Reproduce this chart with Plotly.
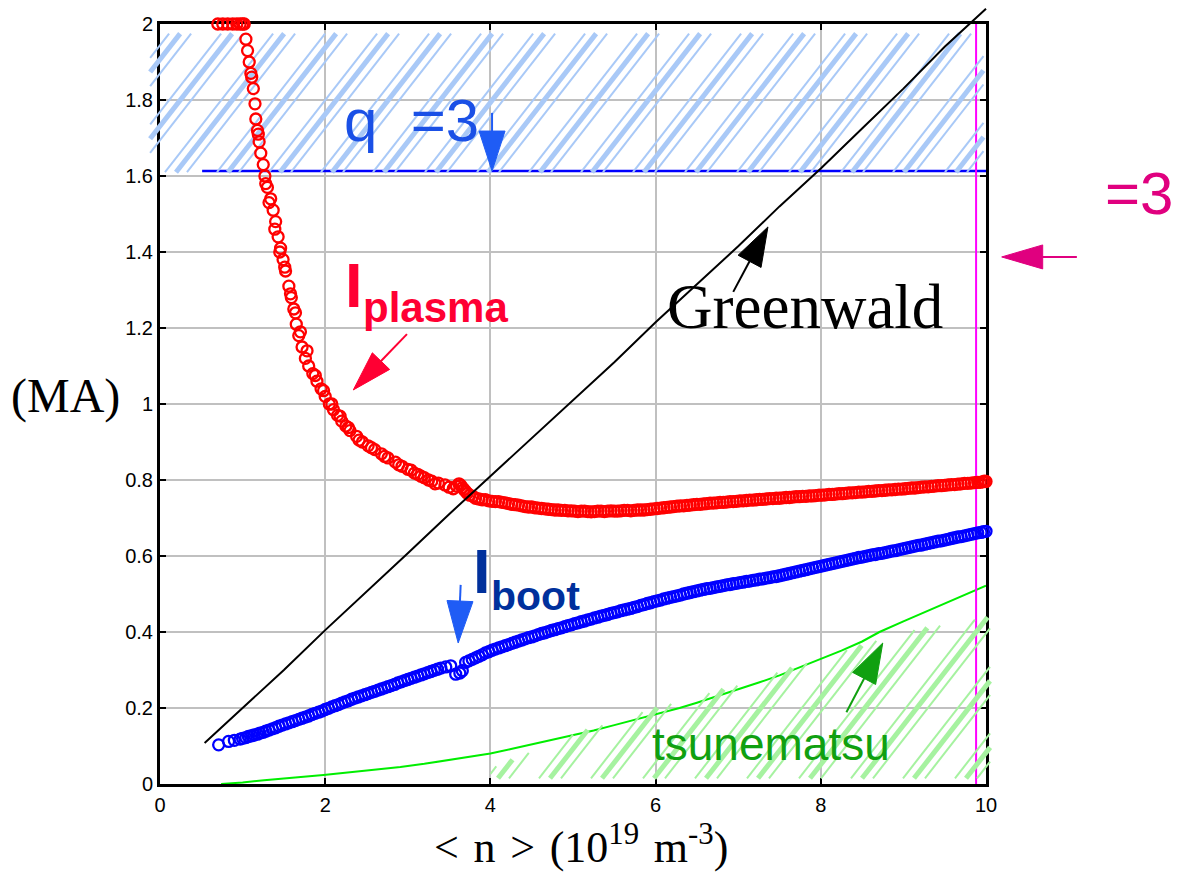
import numpy as np
import plotly.graph_objects as go

# ---------------- data (n in 1e19 m^-3, currents in MA) ----------------
ip_n = [0.70, 0.76, 0.82, 0.88, 0.93, 0.97, 1.00, 1.02, 1.04, 1.06, 1.08, 1.10, 1.13, 1.15,
        1.16, 1.18, 1.20, 1.22, 1.25, 1.27, 1.30, 1.34, 1.37, 1.40, 1.43, 1.46, 1.49, 1.52,
        1.56, 1.59, 1.62, 1.65, 1.68, 1.72, 1.76, 1.80, 1.85, 1.90, 1.95, 2.00, 2.05, 2.10,
        2.15, 2.20, 2.25, 2.30, 2.38, 2.45, 2.52, 2.60, 2.68, 2.76, 2.85, 2.93, 3.00, 3.08,
        3.16, 3.25, 3.33, 3.45, 3.55, 3.62, 3.66, 3.70, 3.75, 3.82, 3.90, 3.98, 4.06, 4.14,
        4.22, 4.30, 4.38, 4.46, 4.54, 4.62, 4.70, 4.78, 4.86, 4.94, 5.02, 5.10, 5.18, 5.26,
        5.34, 5.42, 5.50, 5.58, 5.66, 5.74, 5.82, 5.90, 5.98, 6.06, 6.14, 6.22, 6.30, 6.38,
        6.46, 6.54, 6.62, 6.70, 6.78, 6.86, 6.94, 7.02, 7.10, 7.18, 7.26, 7.34, 7.42, 7.50,
        7.58, 7.66, 7.74, 7.82, 7.90, 7.98, 8.06, 8.14, 8.22, 8.30, 8.38, 8.46, 8.54, 8.62,
        8.70, 8.78, 8.86, 8.94, 9.02, 9.10, 9.18, 9.26, 9.34, 9.42, 9.50, 9.58, 9.66, 9.74,
        9.82, 9.90, 9.96, 10.0,
        1.11, 1.19, 1.28, 1.32, 1.39, 1.45, 1.51, 1.58, 1.64, 1.70, 1.78, 1.88, 1.98, 2.08,
        2.18, 2.28, 2.41, 2.56, 2.72, 2.89,
        3.04, 3.12, 3.20, 3.29, 3.37, 3.50, 3.59, 3.64, 3.68, 3.72, 3.79, 3.86, 3.94, 4.02,
        4.10, 4.18, 4.26, 4.34, 4.42, 4.50, 4.58, 4.66, 4.74, 4.82, 4.90, 4.98, 5.06, 5.14,
        5.22, 5.30, 5.38, 5.46, 5.54, 5.62, 5.70, 5.78, 5.86, 5.94, 6.02, 6.10, 6.18, 6.26,
        6.34, 6.42, 6.50, 6.58, 6.66, 6.74, 6.82, 6.90, 6.98, 7.06, 7.14, 7.22, 7.30, 7.38,
        7.46, 7.54, 7.62, 7.70, 7.78, 7.86, 7.94, 8.02, 8.10, 8.18, 8.26, 8.34, 8.42, 8.50,
        8.58, 8.66, 8.74, 8.82, 8.90, 8.98, 9.06, 9.14, 9.22, 9.30, 9.38, 9.46, 9.54, 9.62,
        9.70, 9.78, 9.86, 9.93, 9.98]
ip_ma = [2.00, 2.00, 2.00, 2.00, 2.00, 2.00, 2.00, 2.00, 1.96, 1.93, 1.90, 1.87, 1.83, 1.79,
         1.75, 1.72, 1.69, 1.66, 1.63, 1.60, 1.57, 1.54, 1.51, 1.48, 1.44, 1.41, 1.38, 1.35,
         1.31, 1.28, 1.25, 1.21, 1.18, 1.15, 1.12, 1.10, 1.08, 1.06, 1.04, 1.02, 1.00, 0.985,
         0.97, 0.955, 0.942, 0.93, 0.915, 0.90, 0.89, 0.88, 0.869, 0.858, 0.847, 0.836, 0.828, 0.818,
         0.81, 0.80, 0.79, 0.787, 0.777, 0.79, 0.78, 0.77, 0.76, 0.752, 0.748, 0.745, 0.743, 0.741,
         0.738, 0.735, 0.732, 0.729, 0.727, 0.725, 0.723, 0.721, 0.720, 0.719, 0.718, 0.718, 0.717, 0.717,
         0.718, 0.718, 0.718, 0.719, 0.720, 0.720, 0.721, 0.722, 0.724, 0.726, 0.728, 0.730, 0.732, 0.733,
         0.735, 0.736, 0.738, 0.739, 0.741, 0.742, 0.743, 0.745, 0.746, 0.747, 0.749, 0.750, 0.751, 0.752,
         0.754, 0.755, 0.756, 0.757, 0.758, 0.760, 0.761, 0.762, 0.764, 0.765, 0.766, 0.768, 0.769, 0.770,
         0.772, 0.773, 0.774, 0.776, 0.777, 0.779, 0.780, 0.782, 0.783, 0.785, 0.786, 0.788, 0.789, 0.791,
         0.792, 0.794, 0.795, 0.796,
         1.86, 1.71, 1.58, 1.53, 1.46, 1.40, 1.36, 1.29, 1.24, 1.19, 1.14, 1.075, 1.035, 1.00,
         0.968, 0.938, 0.905, 0.885, 0.862, 0.840,
         0.826, 0.815, 0.806, 0.797, 0.792, 0.781, 0.784, 0.786, 0.775, 0.765, 0.757, 0.750, 0.748, 0.744,
         0.743, 0.740, 0.736, 0.734, 0.730, 0.729, 0.726, 0.724, 0.722, 0.721, 0.720, 0.719, 0.717, 0.718,
         0.716, 0.718, 0.717, 0.719, 0.718, 0.720, 0.719, 0.721, 0.721, 0.723, 0.725, 0.727, 0.729, 0.731,
         0.732, 0.734, 0.736, 0.737, 0.739, 0.740, 0.741, 0.743, 0.744, 0.745, 0.747, 0.748, 0.749, 0.751,
         0.752, 0.753, 0.754, 0.756, 0.757, 0.758, 0.759, 0.760, 0.762, 0.763, 0.764, 0.766, 0.767, 0.768,
         0.770, 0.771, 0.772, 0.774, 0.775, 0.776, 0.778, 0.779, 0.781, 0.782, 0.784, 0.785, 0.787, 0.788,
         0.790, 0.791, 0.793, 0.794, 0.797]

ib_n = [0.71, 0.83, 0.90, 0.97, 1.04, 1.11, 1.18, 1.25, 1.32, 1.40, 1.48, 1.56, 1.64, 1.72,
        1.80, 1.88, 1.96, 2.04, 2.12, 2.20, 2.28, 2.36, 2.44, 2.52, 2.60, 2.68, 2.76, 2.84,
        2.92, 3.00, 3.08, 3.16, 3.24, 3.32, 3.40, 3.52, 3.58, 3.63, 3.66, 3.70, 3.78, 3.86,
        3.94, 4.02, 4.10, 4.18, 4.26, 4.34, 4.42, 4.50, 4.58, 4.66, 4.74, 4.82, 4.90, 4.98,
        5.06, 5.14, 5.22, 5.30, 5.38, 5.46, 5.54, 5.62, 5.70, 5.78, 5.86, 5.94, 6.02, 6.10,
        6.18, 6.26, 6.34, 6.42, 6.50, 6.58, 6.66, 6.74, 6.82, 6.90, 6.98, 7.06, 7.14, 7.22,
        7.30, 7.38, 7.46, 7.54, 7.62, 7.70, 7.78, 7.86, 7.94, 8.02, 8.10, 8.18, 8.26, 8.34,
        8.42, 8.50, 8.58, 8.66, 8.74, 8.82, 8.90, 8.98, 9.06, 9.14, 9.22, 9.30, 9.38, 9.46,
        9.54, 9.62, 9.70, 9.78, 9.86, 9.94, 10.0,
        1.00, 1.07, 1.14, 1.21, 1.28, 1.36, 1.44, 1.52, 1.60, 1.68, 1.76, 1.84, 1.92, 2.00,
        2.08, 2.16, 2.24, 2.32, 2.40, 2.48, 2.56, 2.64, 2.72, 2.80, 2.88, 2.96, 3.04, 3.12,
        3.20, 3.28, 3.36, 3.46, 3.74, 3.82, 3.90, 3.98, 4.06, 4.14, 4.22, 4.30, 4.38, 4.46,
        4.54, 4.62, 4.70, 4.78, 4.86, 4.94, 5.02, 5.10, 5.18, 5.26, 5.34, 5.42, 5.50, 5.58,
        5.66, 5.74, 5.82, 5.90, 5.98, 6.06, 6.14, 6.22, 6.30, 6.38, 6.46, 6.54, 6.62, 6.70,
        6.78, 6.86, 6.94, 7.02, 7.10, 7.18, 7.26, 7.34, 7.42, 7.50, 7.58, 7.66, 7.74, 7.82,
        7.90, 7.98, 8.06, 8.14, 8.22, 8.30, 8.38, 8.46, 8.54, 8.62, 8.70, 8.78, 8.86, 8.94,
        9.02, 9.10, 9.18, 9.26, 9.34, 9.42, 9.50, 9.58, 9.66, 9.74, 9.82, 9.90, 9.97]
ib_ma = [0.103, 0.112, 0.115, 0.118, 0.122, 0.127, 0.131, 0.136, 0.142, 0.148, 0.155, 0.161, 0.167, 0.173,
         0.179, 0.186, 0.192, 0.199, 0.206, 0.213, 0.219, 0.226, 0.232, 0.238, 0.244, 0.250, 0.256, 0.262,
         0.269, 0.275, 0.281, 0.287, 0.293, 0.299, 0.305, 0.311, 0.289, 0.292, 0.298, 0.320, 0.328, 0.336,
         0.345, 0.352, 0.358, 0.364, 0.370, 0.376, 0.382, 0.387, 0.393, 0.398, 0.404, 0.409, 0.414, 0.419,
         0.424, 0.429, 0.434, 0.439, 0.444, 0.449, 0.453, 0.458, 0.462, 0.467, 0.472, 0.477, 0.482, 0.487,
         0.491, 0.495, 0.500, 0.504, 0.508, 0.512, 0.515, 0.519, 0.522, 0.525, 0.528, 0.531, 0.534, 0.537,
         0.540, 0.543, 0.546, 0.550, 0.554, 0.558, 0.562, 0.566, 0.570, 0.574, 0.578, 0.582, 0.586, 0.590,
         0.594, 0.597, 0.601, 0.604, 0.607, 0.611, 0.614, 0.618, 0.622, 0.626, 0.629, 0.633, 0.637, 0.640,
         0.644, 0.648, 0.651, 0.655, 0.659, 0.662, 0.665,
         0.120, 0.125, 0.129, 0.134, 0.139, 0.145, 0.152, 0.158, 0.164, 0.170, 0.176, 0.183, 0.189, 0.196,
         0.203, 0.209, 0.216, 0.223, 0.229, 0.235, 0.241, 0.247, 0.253, 0.259, 0.266, 0.272, 0.278, 0.284,
         0.290, 0.296, 0.302, 0.308, 0.324, 0.332, 0.340, 0.348, 0.355, 0.361, 0.367, 0.373, 0.379, 0.385,
         0.390, 0.396, 0.401, 0.406, 0.411, 0.417, 0.422, 0.427, 0.432, 0.437, 0.442, 0.446, 0.451, 0.456,
         0.460, 0.465, 0.470, 0.475, 0.480, 0.484, 0.489, 0.493, 0.497, 0.502, 0.506, 0.510, 0.514, 0.517,
         0.520, 0.524, 0.527, 0.530, 0.533, 0.536, 0.539, 0.542, 0.545, 0.548, 0.552, 0.556, 0.560, 0.564,
         0.568, 0.572, 0.576, 0.580, 0.584, 0.588, 0.592, 0.596, 0.599, 0.603, 0.606, 0.609, 0.613, 0.616,
         0.620, 0.624, 0.628, 0.631, 0.635, 0.639, 0.642, 0.646, 0.650, 0.653, 0.657, 0.661, 0.664]

gw_n = [0.54, 1.0, 1.5, 2.0, 2.5, 3.0, 3.5, 4.0, 4.5, 5.0, 5.5, 6.0, 6.5, 7.0, 7.5, 8.0, 8.5,
        9.0, 9.5, 10.0]
gw_ma = [0.108, 0.20, 0.30, 0.405, 0.505, 0.607, 0.71, 0.81, 0.91, 1.01, 1.11, 1.215, 1.315,
         1.415, 1.52, 1.62, 1.725, 1.83, 1.94, 2.04]

ts_n = [0.74, 1.0, 1.26, 1.5, 1.67, 1.98, 2.27, 2.6, 2.91, 3.2, 3.48, 3.65, 3.88, 4.0, 4.25,
        4.5, 4.75, 5.0, 5.25, 5.5, 5.75, 6.0, 6.29, 6.5, 6.75, 7.0, 7.25, 7.5, 7.75, 8.0,
        8.25, 8.5, 8.71, 9.0, 9.25, 9.5, 9.75, 10.0]
ts_ma = [0.0, 0.004, 0.010, 0.014, 0.018, 0.024, 0.030, 0.037, 0.045, 0.053, 0.063, 0.068,
         0.077, 0.080, 0.092, 0.104, 0.116, 0.128, 0.141, 0.155, 0.169, 0.183, 0.200, 0.214,
         0.231, 0.248, 0.267, 0.286, 0.307, 0.328, 0.351, 0.375, 0.400, 0.428, 0.451, 0.474,
         0.498, 0.522]

q3_n = [0.51, 10.0]
q3_ma = [1.613, 1.613]
edge_n = [9.88, 9.88]
edge_ma = [0.0, 2.0]

# hatched zones
q3_zone_n = [-0.12, 9.97]
q3_zone_ma = [1.61, 1.975]
ts_zone_n = [4.0, 5.0, 6.0, 7.0, 8.0, 9.0, 10.05]
ts_zone_top = [0.04, 0.13, 0.20, 0.26, 0.33, 0.40, 0.44]
ts_zone_floor = 0.015

x_ticks = [0, 2, 4, 6, 8, 10]
y_ticks = [0, 0.2, 0.4, 0.6, 0.8, 1.0, 1.2, 1.4, 1.6, 1.8, 2.0]
y_tick_text = ["0", "0.2", "0.4", "0.6", "0.8", "1", "1.2", "1.4", "1.6", "1.8", "2"]

# ---------------- geometry ----------------
W, H = 1182, 874
L, R, T, B = 160, 986, 24, 784          # frame edges in px
XR, YR = (0.0, 10.0), (0.0, 2.0)
KX = (R - L) / (XR[1] - XR[0])
KY = (B - T) / (YR[1] - YR[0])


def to_px(x, y):
    return L + (x - XR[0]) * KX, B - (y - YR[0]) * KY


def to_data(px, py):
    return XR[0] + (px - L) / KX, YR[0] + (B - py) / KY


SANS = "Liberation Sans, Arial, sans-serif"
SERIF = "Liberation Serif, Times New Roman, serif"

fig = go.Figure()
OV = dict(xaxis="x2", yaxis="y2", hoverinfo="skip", showlegend=False)
BASE = dict(xaxis="x", yaxis="y", hoverinfo="skip", showlegend=False)


def hatch(x_lo, x_hi, floor_y, top_x, top_y, color, pitch, phase, slant, group):
    xa, _ = to_px(x_lo, 0)
    xb, _ = to_px(x_hi, 0)
    _, yb = to_px(0, floor_y)
    tpx = [to_px(a, b) for a, b in zip(top_x, top_y)]
    txp = np.array([p[0] for p in tpx])
    typ = np.array([p[1] for p in tpx])
    hmax = yb - typ.min() + 2
    h = np.linspace(0, hmax, 800)
    segs = {}
    k0 = int(np.floor((xa - phase - slant * hmax) / pitch)) - 1
    k1 = int(np.ceil((xb - phase) / pitch)) + 1
    for k in range(k0, k1 + 1):
        for off, w in group:
            s = phase + k * pitch + off
            xs = s + slant * h
            ys = yb - h
            top = np.interp(xs, txp, typ)
            inside = (xs >= xa) & (xs <= xb) & (ys >= top)
            idx = np.flatnonzero(inside)
            if idx.size < 2:
                continue
            runs = np.split(idx, np.flatnonzero(np.diff(idx) > 1) + 1)
            for run in runs:
                if run.size < 2:
                    continue
                p0 = to_data(xs[run[0]], ys[run[0]])
                p1 = to_data(xs[run[-1]], ys[run[-1]])
                sx, sy = segs.setdefault(w, ([], []))
                sx += [p0[0], p1[0], None]
                sy += [p0[1], p1[1], None]
    for w, (sx, sy) in segs.items():
        fig.add_trace(go.Scatter(x=sx, y=sy, mode="lines",
                                 line=dict(color=color, width=w), **OV))


def arrow(tail, tip, color, head_len, head_half, width=2):
    tx, ty = to_px(*tail)
    hx, hy = to_px(*tip)
    d = np.hypot(hx - tx, hy - ty)
    ux, uy = (hx - tx) / d, (hy - ty) / d
    bx, by = hx - ux * head_len, hy - uy * head_len
    nx, ny = -uy, ux
    s0, s1 = to_data(tx, ty), to_data(bx + ux * 2, by + uy * 2)
    fig.add_trace(go.Scatter(x=[s0[0], s1[0]], y=[s0[1], s1[1]], mode="lines",
                             line=dict(color=color, width=width), **OV))
    pts = [to_data(hx, hy), to_data(bx + nx * head_half, by + ny * head_half),
           to_data(bx - nx * head_half, by - ny * head_half), to_data(hx, hy)]
    fig.add_trace(go.Scatter(x=[p[0] for p in pts], y=[p[1] for p in pts], mode="lines",
                             fill="toself", fillcolor=color,
                             line=dict(color=color, width=1), **OV))


# reference lines on the framed axes
fig.add_trace(go.Scatter(x=ts_n, y=ts_ma, mode="lines",
                         line=dict(color="#00ee00", width=2), **BASE))
fig.add_trace(go.Scatter(x=q3_n, y=q3_ma, mode="lines",
                         line=dict(color="#0000ff", width=2.5), **BASE))
fig.add_trace(go.Scatter(x=edge_n, y=edge_ma, mode="lines",
                         line=dict(color="#ff00ff", width=2), **BASE))

# hatched zones
hatch(q3_zone_n[0], q3_zone_n[1], q3_zone_ma[0], q3_zone_n, [q3_zone_ma[1]] * 2,
      "#a9c9f7", 52, 20, 0.78, [(-11, 2), (0, 5), (11, 2)])
hatch(ts_zone_n[0], ts_zone_n[-1], ts_zone_floor, ts_zone_n, ts_zone_top,
      "#a6f2a0", 52, 30, 0.78, [(-11, 2), (0, 5), (11, 2)])

# measured currents
fig.add_trace(go.Scatter(x=ib_n, y=ib_ma, mode="markers",
                         marker=dict(symbol="circle-open", size=11, color="#0000ff",
                                     line=dict(width=2.3, color="#0000ff")), **OV))
fig.add_trace(go.Scatter(x=ip_n, y=ip_ma, mode="markers",
                         marker=dict(symbol="circle-open", size=11, color="#ff0000",
                                     line=dict(width=2.3, color="#ff0000")), **OV))

# Greenwald limit
fig.add_trace(go.Scatter(x=gw_n, y=gw_ma, mode="lines", line=dict(color="black", width=2), **OV))

# arrows
arrow((4.02, 1.766), (4.02, 1.613), "#1f5cf5", 40, 13)
arrow((2.99, 1.184), (2.34, 1.037), "#ff0033", 40, 12)
arrow((3.64, 0.524), (3.61, 0.371), "#1f5cf5", 42, 13)
arrow((6.94, 1.295), (7.36, 1.466), "black", 39, 13)
arrow((8.31, 0.189), (8.75, 0.371), "#10a010", 40, 13)
arrow((11.10, 1.387), (10.19, 1.387), "#e0007f", 41, 12)


def label(x, y, text, size, color, family=SANS):
    fig.add_annotation(x=x, y=y, xref="x2", yref="y2", text=text, showarrow=False,
                       xanchor="center", yanchor="middle",
                       font=dict(family=family, size=size, color=color))


SP = "\u2004"
label(3.04, 1.747, "q\u00a0 =3", 60, "#1a50e6")
label(11.85, 1.553, "=3", 60, "#e0007f")
label(2.35, 1.313, "<b>I</b>", 63, "#ff0033")
label(3.33, 1.255, "<b>plasma</b>", 42, "#ff0033")
label(3.90, 0.561, "<b>I</b>", 63, "#00309c")
label(4.55, 0.495, "<b>boot</b>", 41, "#00309c")
label(7.81, 1.255, "Greenwald", 63, "black", SERIF)
label(7.40, 0.105, "tsunematsu", 46, "#10a010")
label(-1.14, 1.021, "(MA)", 48, "black", SERIF)
label(5.10, -0.160, f"<{SP}n{SP}>{SP}(10<sup>19</sup>{SP}m<sup>-3</sup>)", 44, "black", SERIF)

x2r = [XR[0] - L / KX, XR[0] + (W - L) / KX]
y2r = [YR[0] - (H - B) / KY, YR[0] + B / KY]

axis_common = dict(showgrid=True, gridcolor="#c0c0c0", gridwidth=2, zeroline=False,
                   showline=True, linecolor="black", linewidth=3, mirror="ticks",
                   ticks="inside", ticklen=6, tickwidth=2, tickcolor="black",
                   tickfont=dict(family=SANS, size=20, color="black"), fixedrange=True,
                   automargin=False)

fig.update_layout(
    width=W, height=H, autosize=False,
    margin=dict(l=0, r=0, t=0, b=0, pad=0, autoexpand=False),
    paper_bgcolor="white", plot_bgcolor="rgba(0,0,0,0)",
    showlegend=False,
    xaxis=dict(domain=[L / W, R / W], range=list(XR), tickvals=x_ticks, anchor="y",
               ticklabelstandoff=1, **axis_common),
    yaxis=dict(domain=[(H - B) / H, (H - T) / H], range=list(YR), tickvals=y_ticks,
               ticktext=y_tick_text, anchor="x", ticklabelstandoff=0, **axis_common),
    xaxis2=dict(domain=[0, 1], range=x2r, visible=False, anchor="y2", fixedrange=True,
                automargin=False),
    yaxis2=dict(domain=[0, 1], range=y2r, visible=False, anchor="x2", fixedrange=True,
                automargin=False),
)

fig.write_html("out.html")
